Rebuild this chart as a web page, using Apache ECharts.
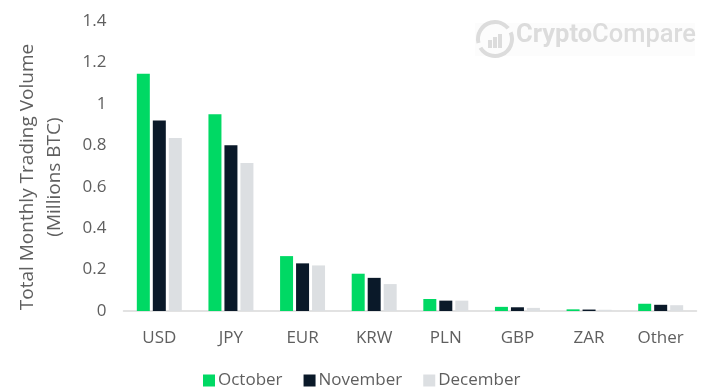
<!DOCTYPE html>
<html>
<head>
<meta charset="utf-8">
<style>
  html, body { margin: 0; padding: 0; background: #fff; }
  #chart { width: 702px; height: 391px; }
</style>
<script src="https://cdn.jsdelivr.net/npm/echarts@6/dist/echarts.min.js"></script>
</head>
<body>
<div id="chart"></div>
<script>
const categories = ["USD", "JPY", "EUR", "KRW", "PLN", "GBP", "ZAR", "Other"];
const october = [1.145, 0.95, 0.265, 0.18, 0.058, 0.02, 0.008, 0.035];
const november = [0.92, 0.8, 0.23, 0.16, 0.05, 0.018, 0.007, 0.03];
const december = [0.835, 0.715, 0.22, 0.13, 0.05, 0.015, 0.006, 0.028];

const textColor = "#5f5f5f";
const markColor = "#dcdcdc";
const fontFamily = "'Open Sans', sans-serif";
const makeSeries = (name, data, color) => ({
  name,
  type: "bar",
  data,
  barWidth: 13,
  barGap: "23%",
  itemStyle: { color }
});

const chart = echarts.init(document.getElementById("chart"));
chart.setOption({
  animation: false,
  textStyle: { fontFamily },
  grid: { left: 123.5, right: 5.5, top: 21, bottom: 80, outerBoundsMode: "none" },
  legend: {
    left: 198,
    top: 367,
    icon: "rect",
    itemWidth: 12,
    itemHeight: 12,
    itemGap: 21,
    textStyle: { color: textColor, fontSize: 17, fontFamily, padding: [0, 0, 0, -2] },
    data: ["October", "November", "December"]
  },
  xAxis: {
    type: "category",
    data: categories,
    axisTick: { show: false },
    axisLine: { lineStyle: { color: "#d9d9d9", width: 1.5 } },
    axisLabel: { color: textColor, fontSize: 17, margin: 19, fontFamily }
  },
  yAxis: {
    type: "value",
    min: 0,
    max: 1.4,
    interval: 0.2,
    splitLine: { show: false },
    axisLine: { show: false },
    axisTick: { show: false },
    axisLabel: {
      color: textColor,
      fontSize: 17,
      margin: 17,
      fontFamily,
      formatter: (v) => String(Math.round(v * 10) / 10)
    },
    name: "Total Monthly Trading Volume\n(Millions BTC)",
    nameLocation: "middle",
    nameGap: 55,
    nameTextStyle: { color: textColor, fontSize: 19, lineHeight: 27, fontFamily, padding: [0, 22, 0, 0] }
  },
  series: [
    makeSeries("October", october, "#00d964"),
    makeSeries("November", november, "#0a1929"),
    makeSeries("December", december, "#dcdfe2")
  ],
  graphic: [
    { type: "rect", silent: true, z: -1, shape: { x: 475, y: 23, width: 220, height: 33 }, style: { fill: "#fcfcfc" } },
    {
      type: "text",
      left: 516,
      top: 23,
      silent: true,
      style: {
        text: "{a|Crypto}{b|Compare}",
        rich: {
          a: { fill: markColor, font: "bold 25.5px 'Roboto', sans-serif" },
          b: { fill: markColor, font: "500 25.5px 'Roboto', sans-serif" }
        }
      }
    },
    {
      type: "arc",
      silent: true,
      shape: { cx: 495, cy: 39, r: 17, startAngle: -0.4, endAngle: 2.6 },
      style: { stroke: markColor, lineWidth: 4, fill: null }
    },
    {
      type: "arc",
      silent: true,
      shape: { cx: 495, cy: 39, r: 17, startAngle: 2.9, endAngle: 5.6 },
      style: { stroke: markColor, lineWidth: 4, fill: null }
    },
    { type: "rect", silent: true, shape: { x: 488, y: 40, width: 4, height: 8 }, style: { fill: markColor } },
    { type: "rect", silent: true, shape: { x: 493, y: 37, width: 4, height: 11 }, style: { fill: markColor } },
    { type: "rect", silent: true, shape: { x: 498, y: 34, width: 4, height: 14 }, style: { fill: markColor } }
  ]
});
</script>
</body>
</html>
